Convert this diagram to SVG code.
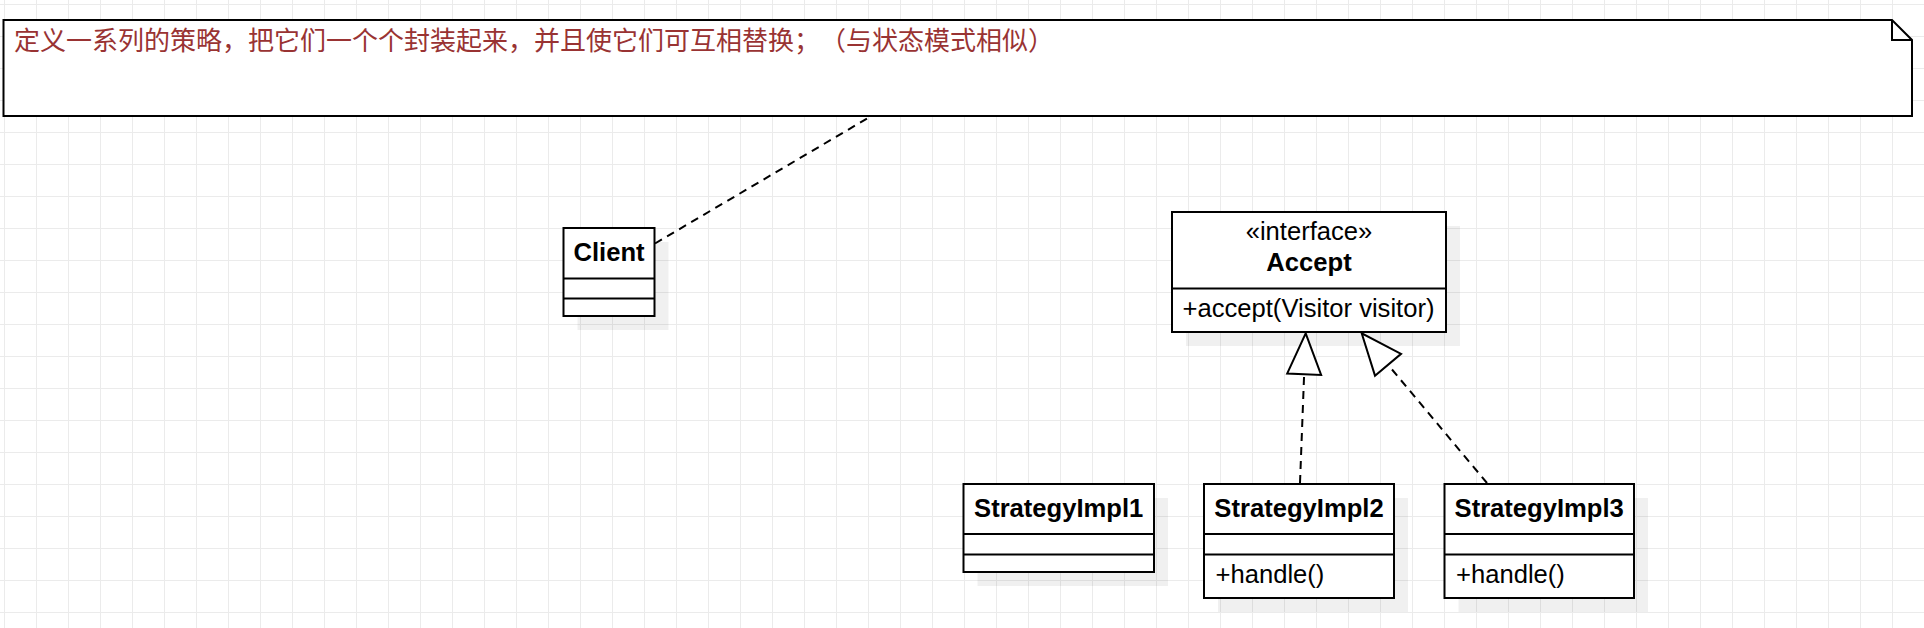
<svg xmlns="http://www.w3.org/2000/svg" width="1924" height="628" viewBox="0 0 1924 628">
<style>
.box{fill:#fff;stroke:#000;stroke-width:2}
.sh{fill:#000;fill-opacity:0.06}
.ln{stroke:#000;stroke-width:2}
.t{font-family:"Liberation Sans",Arial,sans-serif;font-size:25.6px;fill:#000}
.b{font-weight:bold}
.m{text-anchor:middle}
.dash{fill:none;stroke:#000;stroke-width:2;stroke-dasharray:8 6}
.note{font-family:"Noto Sans CJK SC","Noto Sans",sans-serif;font-size:26px;fill:#993333;text-spacing-trim:space-all}
</style>
<defs>
<pattern id="grid" x="4" y="4" width="32" height="32" patternUnits="userSpaceOnUse">
<path d="M0,0 H32 M0,0 V32" fill="none" stroke="#ebebeb" stroke-width="2"/>
</pattern>
<marker id="tri" markerUnits="userSpaceOnUse" markerWidth="46" markerHeight="40" refX="41" refY="0" viewBox="-2 -20 46 40" orient="auto" overflow="visible">
<path d="M0,-17 L41,0 L0,17 Z" fill="#fff" stroke="#000" stroke-width="2" stroke-dasharray="none"/>
</marker>
</defs>
<rect width="1924" height="628" fill="#fff"/>
<rect width="1924" height="628" fill="url(#grid)"/>

<g id="note">
<path class="box" d="M3.5,20 H1892 L1912,40 V116 H3.5 Z"/>
<path class="ln" fill="none" d="M1892,20 V40 H1912"/>
<text class="note" x="14" y="49.5">定义一系列的策略，把它们一个个封装起来，并且使它们可互相替换；（与状态模式相似）</text>
</g>

<g id="client">
<rect class="sh" x="577.5" y="242" width="91" height="88"/>
<rect class="box" x="563.5" y="228" width="91" height="88"/>
<path class="ln" d="M563.5,278.5 H654.5 M563.5,298.5 H654.5"/>
<text class="t b m" x="609" y="261">Client</text>
</g>

<g id="accept">
<rect class="sh" x="1186" y="226" width="274" height="120"/>
<rect class="box" x="1172" y="212" width="274" height="120"/>
<path class="ln" d="M1172,288.5 H1446"/>
<text class="t m" x="1309" y="240">«interface»</text>
<text class="t b m" x="1309" y="271">Accept</text>
<text class="t" x="1182.5" y="317">+accept(Visitor visitor)</text>
</g>

<g id="impl1">
<rect class="sh" x="977.5" y="498" width="190.5" height="88"/>
<rect class="box" x="963.5" y="484" width="190.5" height="88"/>
<path class="ln" d="M963.5,534 H1154 M963.5,554.5 H1154"/>
<text class="t b m" x="1058.7" y="516.7">StrategyImpl1</text>
</g>

<g id="impl2">
<rect class="sh" x="1218" y="498" width="190" height="114"/>
<rect class="box" x="1204" y="484" width="190" height="114"/>
<path class="ln" d="M1204,534 H1394 M1204,554.5 H1394"/>
<text class="t b m" x="1299" y="516.7">StrategyImpl2</text>
<text class="t" x="1215.5" y="582.7">+handle()</text>
</g>

<g id="impl3">
<rect class="sh" x="1458.5" y="498" width="189.5" height="114"/>
<rect class="box" x="1444.5" y="484" width="189.5" height="114"/>
<path class="ln" d="M1444.5,534 H1634 M1444.5,554.5 H1634"/>
<text class="t b m" x="1539.2" y="516.7">StrategyImpl3</text>
<text class="t" x="1456" y="582.7">+handle()</text>
</g>

<g id="connectors">
<path class="dash" d="M655,243.5 L868,118"/>
<path class="dash" d="M1300,483 L1305.7,333.3" marker-end="url(#tri)"/>
<path class="dash" d="M1487,483 L1361.7,333.3" marker-end="url(#tri)"/>
</g>
</svg>
